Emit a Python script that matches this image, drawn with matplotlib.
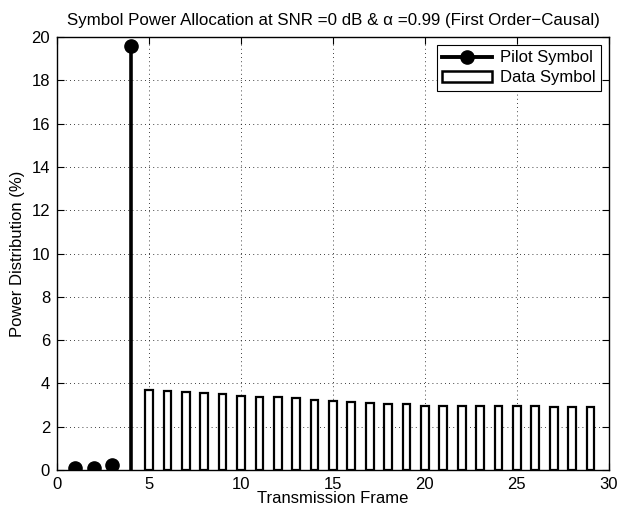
import numpy as np
import matplotlib
matplotlib.use('Agg')
import matplotlib.pyplot as plt
import matplotlib.patches as patch
from matplotlib.lines import Line2D
from matplotlib.legend_handler import HandlerLine2D

plt.rcParams['font.family'] = ['Liberation Sans', 'DejaVu Sans']
plt.rcParams['font.size'] = 12

# pilot symbols (frames 1-4) and data symbols (frames 5-29), in percent
pilot_frames = [1, 2, 3, 4]
pilot_power = [0.1, 0.1, 0.25, 19.6]
data_frames = list(range(5, 30))
data_power = [3.68, 3.64, 3.59, 3.57, 3.51, 3.44, 3.36, 3.36, 3.31, 3.24,
              3.19, 3.16, 3.11, 3.05, 3.04, 2.97, 2.97, 2.97, 2.97, 2.97,
              2.97, 2.97, 2.93, 2.93, 2.90]
xticks = [0, 5, 10, 15, 20, 25, 30]
yticks = list(range(0, 21, 2))


class HandlerStemEnd(HandlerLine2D):
    # put the legend marker at the right end of the line
    def get_xdata(self, legend, xdescent, ydescent, width, height, fontsize):
        xdata, xm = super().get_xdata(legend, xdescent, ydescent, width, height, fontsize)
        return xdata, np.array([xdata[-1] - 5.0])


fig = plt.figure(figsize=(6.2, 5.14), dpi=100)
ax = fig.add_axes([0.092, 0.0856, 0.890, 0.8424])

# pilot stems
ax.vlines(pilot_frames, 0, pilot_power, colors='k', linewidth=2.6, zorder=3)
ax.plot(pilot_frames, pilot_power, 'o', color='k', markersize=9.5, zorder=4)

# data bars
ax.bar(data_frames, data_power, width=0.42, facecolor='white',
       edgecolor='k', linewidth=1.6, zorder=3)

ax.set_xlim(0, 30)
ax.set_ylim(0, 20)
ax.set_xticks(xticks)
ax.set_yticks(yticks)
ax.tick_params(direction='in', top=True, right=True, length=5, width=0.8,
               labelsize=12, pad=5)
ax.grid(True, color='k', linestyle=(0, (1, 4)), linewidth=0.6)
for s in ax.spines.values():
    s.set_linewidth(1.0)

ax.set_title('Symbol Power Allocation at SNR =0 dB & α =0.99 (First Order−Causal)',
             fontsize=12.2, pad=9)
ax.set_xlabel('Transmission Frame', fontsize=12, labelpad=-1)
ax.set_ylabel('Power Distribution (%)', fontsize=12, labelpad=5)

h_pilot = Line2D([], [], color='k', linewidth=2.8, marker='o', markersize=9.5)
h_data = patch.Rectangle((0, 0), 1, 1, facecolor='white', edgecolor='k', linewidth=1.8)
leg = ax.legend([h_pilot, h_data], ['Pilot Symbol', 'Data Symbol'],
                loc='upper right', fontsize=12, handlelength=3.0,
                handletextpad=0.45, borderpad=0.35, labelspacing=0.3,
                fancybox=False, framealpha=1, edgecolor='k',
                borderaxespad=0.45,
                handler_map={h_pilot: HandlerStemEnd(numpoints=1)})
leg.get_frame().set_linewidth(0.8)

fig.savefig('out.png', dpi=100)
